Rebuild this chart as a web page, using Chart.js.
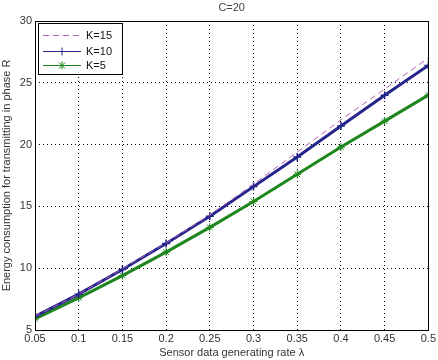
<!DOCTYPE html>
<html>
<head>
<meta charset="utf-8">
<script src="https://cdn.jsdelivr.net/npm/chart.js@4.4.1/dist/chart.umd.min.js"></script>
<style>
  html, body { margin: 0; padding: 0; background: #fff; }
  #wrap { width: 438px; height: 360px; }
</style>
</head>
<body>
<div id="wrap"><canvas id="energyChart" width="438" height="360"></canvas></div>
<script>
// valores
const rates = [0.05, 0.1, 0.15, 0.2, 0.25, 0.3, 0.35, 0.4, 0.45, 0.5];
const k15 = [6.1, 7.9, 9.95, 12.05, 14.3, 16.8, 19.4, 22.0, 24.5, 27.0];
const k10 = [6.1, 7.9, 9.9, 12.0, 14.2, 16.6, 19.0, 21.5, 24.0, 26.4];
const k5 = [5.9, 7.6, 9.4, 11.3, 13.3, 15.4, 17.6, 19.8, 21.9, 24.0];
const seriesNames = ['K=15', 'K=10', 'K=5'];
const xTicks = [0.05, 0.1, 0.15, 0.2, 0.25, 0.3, 0.35, 0.4, 0.45, 0.5];
const yTicks = [5, 10, 15, 20, 25, 30];
const chartTitle = 'C=20';

const font = 'Liberation Sans, Arial, sans-serif';

function pts(ys) {
  return rates.map((x, i) => ({ x: x, y: ys[i] }));
}

// marco del area y leyenda estilo matlab
const framePlugin = {
  id: 'frame',
  afterDraw(chart) {
    const c = chart.ctx;
    const a = chart.chartArea;
    c.save();
    c.strokeStyle = '#000';
    c.lineWidth = 1;
    c.strokeRect(Math.round(a.left) + 0.5, Math.round(a.top) + 0.5,
      Math.round(a.right - a.left), Math.round(a.bottom - a.top));

    // titulo
    c.fillStyle = '#444';
    c.font = '11px ' + font;
    c.textAlign = 'center';
    c.textBaseline = 'middle';
    c.fillText(chartTitle, (a.left + a.right) / 2, 8);

    // leyenda
    const lx = a.left + 3, ly = a.top + 2, lw = 84, lh = 51;
    c.fillStyle = '#fff';
    c.fillRect(lx, ly, lw, lh);
    c.strokeStyle = '#000';
    c.strokeRect(lx + 0.5, ly + 0.5, lw, lh);
    const rows = [12, 28, 42];
    chart.data.datasets.forEach((ds, i) => {
      const y = ly + rows[i] + 0.5;
      c.strokeStyle = ds.borderColor;
      c.lineWidth = 1;
      c.setLineDash(ds.borderDash || []);
      c.beginPath();
      c.moveTo(lx + 5, y);
      c.lineTo(lx + 43, y);
      c.stroke();
      c.setLineDash([]);
      const mx = lx + 24;
      if (ds.pointStyle === 'cross') {
        c.beginPath();
        c.moveTo(mx, y - 4); c.lineTo(mx, y + 4);
        c.stroke();
      } else if (ds.pointStyle === 'star') {
        c.beginPath();
        c.moveTo(mx, y - 4); c.lineTo(mx, y + 4);
        c.moveTo(mx - 4, y); c.lineTo(mx + 4, y);
        c.moveTo(mx - 3, y - 3); c.lineTo(mx + 3, y + 3);
        c.moveTo(mx - 3, y + 3); c.lineTo(mx + 3, y - 3);
        c.stroke();
      }
      c.fillStyle = '#111';
      c.font = '11px ' + font;
      c.textAlign = 'left';
      c.textBaseline = 'middle';
      c.fillText(ds.label, lx + 48, y);
    });
    c.restore();
  }
};

const ctx = document.getElementById('energyChart').getContext('2d');
const chart = new Chart(ctx, {
  type: 'line',
  data: {
    datasets: [
      {
        label: seriesNames[0],
        data: pts(k15),
        borderColor: '#b060b8',
        borderWidth: 1,
        borderDash: [6, 4],
        pointRadius: 0,
        pointStyle: false,
        order: 0
      },
      {
        label: seriesNames[1],
        data: pts(k10),
        borderColor: '#25258c',
        borderWidth: 3,
        pointStyle: 'cross',
        pointRadius: 4,
        pointBorderWidth: 1.5,
        pointBorderColor: '#25258c',
        order: 1
      },
      {
        label: seriesNames[2],
        data: pts(k5),
        borderColor: '#1d861d',
        borderWidth: 3,
        pointStyle: 'star',
        pointRadius: 4,
        pointBorderWidth: 1,
        pointBorderColor: '#1d861d',
        order: 2
      }
    ]
  },
  options: {
    responsive: false,
    animation: false,
    layout: { padding: { top: 21, right: 9, left: 0, bottom: 0 } },
    plugins: {
      legend: { display: false },
      title: { display: false },
      tooltip: { enabled: false }
    },
    scales: {
      x: {
        type: 'linear',
        min: 0.05,
        max: 0.5,
        afterBuildTicks: s => { s.ticks = xTicks.map(v => ({ value: v })); },
        afterFit: s => { s.height = 30; },
        ticks: {
          color: '#333',
          font: { family: font, size: 11 },
          padding: 2,
          maxRotation: 0,
          callback: v => String(parseFloat(v.toFixed(2)))
        },
        grid: { color: '#000', lineWidth: 1, drawTicks: false },
        border: { display: false, dash: [1, 3] },
        title: {
          display: true,
          text: 'Sensor data generating rate λ',
          color: '#333',
          font: { family: font, size: 11 },
          padding: { top: 1, bottom: 0 }
        }
      },
      y: {
        min: 5,
        max: 30,
        afterBuildTicks: s => { s.ticks = yTicks.map(v => ({ value: v })); },
        afterFit: s => { s.width = 35; },
        ticks: {
          color: '#333',
          font: { family: font, size: 11 },
          padding: 3
        },
        grid: { color: '#000', lineWidth: 1, drawTicks: false },
        border: { display: false, dash: [1, 3] },
        title: {
          display: true,
          text: 'Energy consumption for transmitting in phase R',
          color: '#333',
          font: { family: font, size: 11 },
          padding: { top: 0, bottom: 0 }
        }
      }
    }
  },
  plugins: [framePlugin]
});
</script>
</body>
</html>
